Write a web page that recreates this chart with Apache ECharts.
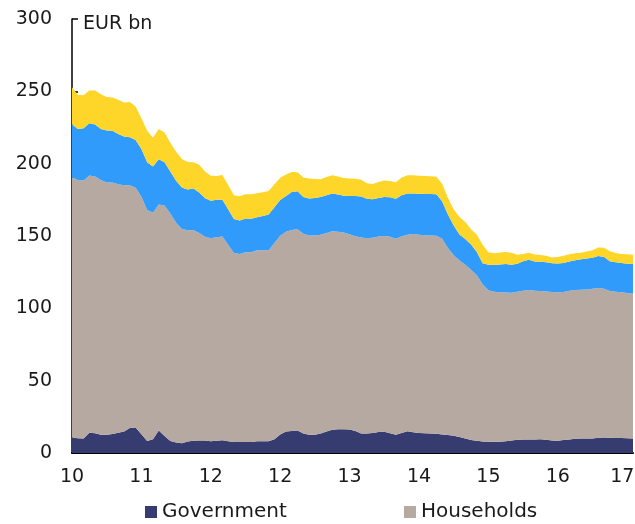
<!DOCTYPE html>
<html>
<head>
<meta charset="utf-8">
<script src="https://cdn.jsdelivr.net/npm/echarts@6/dist/echarts.min.js"></script>
<style>html,body{margin:0;padding:0;background:#fff}#c{width:635px;height:524px}</style>
</head>
<body>
<div id="c"></div>
<script>
// Monthly observations starting Jan 2010
const startYear = 2010;
const xTickLabels = ['10', '11', '12', '12', '13', '14', '15', '16', '17'];
const yTickLabels = ['0', '50', '100', '150', '200', '250', '300'];

const government = [10.7,10.2,10.1,14,13.7,12.6,12.6,13.2,14,14.9,17.2,17.6,13,8.3,9.5,15.5,11.8,8.3,7.2,6.8,8,8.4,8.7,8.6,8.2,8.4,8.8,8.1,7.6,7.6,7.6,7.6,8.2,8.2,8.1,9.5,12.8,14.8,15.2,15.5,13.4,12.7,12.7,13.5,14.9,16.1,16.4,16.5,16.3,15.2,13.4,13.5,13.9,14.6,14.7,13.7,12.6,13.8,15.1,14.4,13.8,13.6,13.5,13.3,12.8,12.4,11.9,11,10,9,8.4,8,7.8,7.8,7.8,8.1,8.6,9.1,9.3,9.3,9.4,9.5,9.1,8.6,8.5,9,9.4,9.9,10,10,10.1,10.5,10.7,10.5,10.4,10.3,10.2,10.1];
const households = [179.9,178.5,178.3,177.9,177.5,176.1,174.4,173.7,171.7,170.1,167.8,165.7,164.1,159.6,156.5,156.2,159.2,157.2,152,148,146,145.6,143.4,140.8,140.2,140.8,140.8,135.9,130.7,129.9,131.1,131.1,131.9,132,132,135.6,137.4,138.2,139,139.2,138.1,137.7,137.6,137.3,137.2,137.2,136.6,135.9,134.9,134.7,135.6,135,134.9,135.1,135.3,135.7,135.5,136,135.8,136.9,137.1,136.9,136.8,136.8,135.3,129.3,124.8,122.1,120.1,117.7,114.5,108.7,104.7,103.6,103.4,102.9,102.2,102.4,102.9,103.3,102.8,102.4,102.5,102.7,102.7,102.3,102.7,102.7,102.8,103,103.5,103.5,102.8,101.4,101.1,100.8,100.4,100];
const corporates = [36.7,35.3,36,36,35.8,35.3,36,35.9,34.8,33.8,33.3,33,33,33,32,31.3,30,29,29,28.7,28.1,28.8,28,26.7,25.9,25.8,25.5,24.5,23.4,23.3,23.4,23.3,22.8,23.6,24.7,24.7,24.6,24.6,26.3,26.2,25.5,25.6,26,26.2,26.1,26,25.7,25.4,26.4,27.7,28.3,27.2,26.6,26.6,27,27.3,27.6,28.4,28.5,28.1,28.3,28.6,28.7,28.7,26,23.1,20.5,17.9,17.9,17.5,16.1,14.4,17.6,18.5,19.1,19.6,19.4,19.4,20.3,20.9,20.2,20.3,20.3,19.9,19.8,20.1,20.3,20.6,21.1,21.4,21.4,22.1,21.9,20.6,20.4,20.2,20.2,20.6];
const other = [25.5,23.7,22.9,22.6,23.6,23.9,23,23,23.6,23.5,24.3,23.2,21.3,21.9,20,21,20.5,20,20,19.8,19,18.2,19.2,18.5,17.3,16.4,17,16.7,16.5,16.6,16.8,16.8,16.6,16.5,16.3,16,15.5,14.9,13.8,13.1,13.5,13.8,13.1,12.3,12.5,12.7,12.5,12.3,12.1,12,11.6,10.7,10.5,11.1,11.3,11.4,11.4,12.2,12.6,12.6,12.5,12.4,12.3,12.2,12,11.6,11.1,12.1,11.7,10.5,11.9,12.8,8.6,8.2,8.3,8.4,8.3,6.2,5,4.9,4.8,4.7,4.5,4,4.5,4.9,4.9,4.9,4.6,4.8,5.2,5.9,6.5,6.9,6.3,6.3,6.5,6.4];

const months = government.map((_, i) => {
  const y = startYear + Math.floor(i / 12), m = (i % 12) + 1;
  return y + '-' + (m < 10 ? '0' + m : m);
});

const FONT = 'DejaVu Sans';
const chart = echarts.init(document.getElementById('c'), null, {renderer: 'canvas'});

function areaSeries(name, data, color) {
  return {
    name: name, type: 'line', stack: 'total', data: data,
    showSymbol: false, symbol: 'none', smooth: false,
    lineStyle: {width: 0}, areaStyle: {color: color, opacity: 1},
    itemStyle: {color: color}, emphasis: {disabled: true}, animation: false
  };
}

const lastTick = (xTickLabels.length - 1) * 12;

chart.setOption({
  backgroundColor: '#fff',
  animation: false,
  grid: {left: 72, right: 2, top: 19, bottom: 71, containLabel: false, outerBoundsMode: 'none'},
  legend: [
    {data: ['Government'], left: 145, top: 502, padding: 0, itemWidth: 12, itemHeight: 12, icon: 'rect',
     textStyle: {fontFamily: FONT, fontSize: 20, color: '#1a1a1a'}, selectedMode: false},
    {data: ['Households'], left: 404, top: 502, padding: 0, itemWidth: 12, itemHeight: 12, icon: 'rect',
     textStyle: {fontFamily: FONT, fontSize: 20, color: '#1a1a1a'}, selectedMode: false}
  ],
  graphic: [{type: 'text', left: 83, top: 15, style: {text: 'EUR bn', fill: '#1a1a1a', font: '19px "DejaVu Sans"'}}],
  xAxis: {
    type: 'category', data: months, boundaryGap: false,
    axisLine: {show: true, onZero: false, lineStyle: {color: '#000', width: 2}},
    axisTick: {show: false}, splitLine: {show: false},
    axisLabel: {
      margin: 15, fontFamily: FONT, fontSize: 19, color: '#1a1a1a',
      interval: (idx) => idx % 12 === 0,
      formatter: (val, idx) => {
        if (idx % 12 !== 0) return '';
        const t = xTickLabels[idx / 12] || '';
        return idx === lastTick ? '{last|' + t + '}' : t;
      },
      rich: {last: {fontFamily: FONT, fontSize: 19, color: '#1a1a1a', padding: [0, 10, 0, 0]}}
    }
  },
  yAxis: {
    type: 'value', min: 0, max: 300, interval: 50,
    axisLine: {show: true, lineStyle: {color: '#000', width: 1.5}},
    axisTick: {show: true, inside: true, length: 6, lineStyle: {color: '#000', width: 1.5}},
    splitLine: {show: false},
    axisLabel: {margin: 20, fontFamily: FONT, fontSize: 19, color: '#1a1a1a',
      formatter: v => yTickLabels[v / 50]}
  },
  series: [
    areaSeries('Government', government, '#363c70'),
    areaSeries('Households', households, '#b6a9a1'),
    areaSeries('Corporates', corporates, '#319bfb'),
    areaSeries('Other', other, '#fed62a')
  ]
});
</script>
</body>
</html>
